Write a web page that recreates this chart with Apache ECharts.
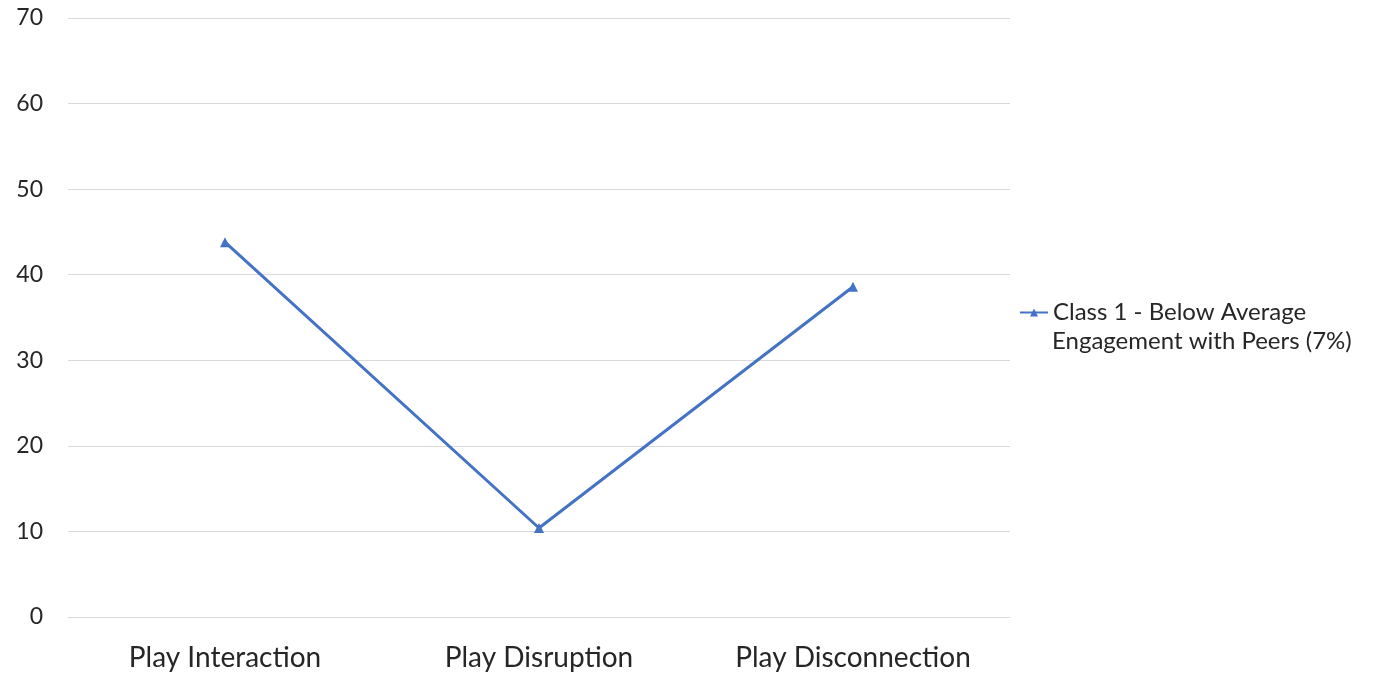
<!DOCTYPE html>
<html><head><meta charset="utf-8">
<script src="https://cdn.jsdelivr.net/npm/echarts@6/dist/echarts.min.js"></script>
<style>html,body{margin:0;padding:0;background:#fff}#c{width:1388px;height:675px}</style>
</head><body><div id="c"></div>
<script>
const categories = ['Play Interaction', 'Play Disruption', 'Play Disconnection'];
const seriesName = 'Class 1 - Below Average';
const seriesNameLine2 = 'Engagement with Peers (7%)';
const values = [43.8, 10.4, 38.6];
const yTicks = [0, 10, 20, 30, 40, 50, 60, 70];

const chart = echarts.init(document.getElementById('c'));
const font = 'Lato';
chart.setOption({
  animation: false,
  textStyle: { fontFamily: font },
  grid: { left: 68, right: 378, top: 18, bottom: 58, containLabel: false },
  legend: {
    left: 1019, top: 298, orient: 'vertical', padding: 0,
    itemWidth: 28, itemHeight: 10,
    textStyle: { fontFamily: font, fontSize: 24, color: '#262626', lineHeight: 29 },
    data: [seriesName]
  },
  graphic: [{
    type: 'text', left: 1052, top: 327,
    style: { text: seriesNameLine2, fontFamily: font, fontSize: 24, fill: '#262626', lineHeight: 29 }
  }],
  xAxis: {
    type: 'category', data: categories, boundaryGap: true,
    axisLine: { show: true, lineStyle: { color: '#d9d9d9', width: 1 } },
    axisTick: { show: false },
    axisLabel: { fontFamily: font, fontSize: 28, color: '#262626', margin: 27 }
  },
  yAxis: {
    type: 'value', min: yTicks[0], max: yTicks[yTicks.length - 1], interval: 10,
    axisLine: { show: false }, axisTick: { show: false },
    splitLine: { lineStyle: { color: '#d9d9d9', width: 1 } },
    axisLabel: { fontFamily: font, fontSize: 23, color: '#262626', margin: 25 }
  },
  series: [{
    name: seriesName, type: 'line', data: values,
    symbol: 'triangle', symbolSize: 10,
    lineStyle: { color: '#4472C4', width: 3 },
    itemStyle: { color: '#4472C4' }
  }]
});
</script></body></html>
